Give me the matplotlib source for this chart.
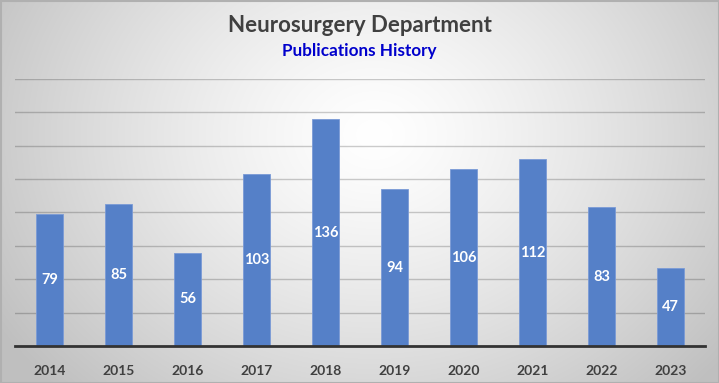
import numpy as np
import matplotlib
matplotlib.use("Agg")
import matplotlib.pyplot as plt

years = ["2014", "2015", "2016", "2017", "2018", "2019", "2020", "2021", "2022", "2023"]
publications = [79, 85, 56, 103, 136, 94, 106, 112, 83, 47]

W, H = 719, 383
fig = plt.figure(figsize=(W / 100, H / 100), dpi=100)

# radial gradient background
bg = fig.add_axes([0, 0, 1, 1])
yy, xx = np.mgrid[0:H, 0:W]
cx, cy = W * 0.52, H * 0.35
r = np.sqrt(((xx - cx) / (W * 0.62)) ** 2 + ((yy - cy) / (H * 0.95)) ** 2)
r = np.clip(r, 0, 1)
val = 1.0 - 0.25 * r ** 1.3
img = np.dstack([val, val, val])
bg.imshow(img, extent=[0, W, H, 0], aspect="auto", interpolation="bilinear")
bg.set_xlim(0, W)
bg.set_ylim(H, 0)
bg.axis("off")
bg.add_patch(plt.Rectangle((0.5, 0.5), W - 1, H - 1, fill=False, edgecolor="#b0b0b0", lw=1.5))

left, right, bottom, top = 15, 705, 346, 79
ax = fig.add_axes([left / W, (H - bottom) / H, (right - left) / W, (bottom - top) / H])
ax.patch.set_alpha(0)
x = np.arange(len(years))
bars = ax.bar(x, publications, width=0.38, color="#5580C8", edgecolor="#7a9ad6", linewidth=0.6, zorder=3)
ax.set_xlim(-0.5, len(years) - 0.5)
ax.set_ylim(0, 160)
ax.set_yticks(np.arange(0, 161, 20))
ax.yaxis.grid(True, color="black", alpha=0.2, linewidth=1.0, zorder=0)
ax.tick_params(axis="y", left=False, labelleft=False)
ax.tick_params(axis="x", bottom=False, pad=10)
ax.set_xticks(x)
ax.set_xticklabels(years, fontsize=10, fontweight="bold", color="#404040", family="Lato")
for s in ["top", "right", "left"]:
    ax.spines[s].set_visible(False)
ax.spines["bottom"].set_color("#333333")
ax.spines["bottom"].set_linewidth(2.0)
ax.spines["bottom"].set_zorder(4)

for xi, v in zip(x, publications):
    ax.text(xi, v / 2, str(v), ha="center", va="center", color="white",
            fontsize=10.5, fontweight="bold", family="Lato", zorder=5)

fig.text(0.5, 1 - 26 / H, "Neurosurgery Department", ha="center", va="center",
         fontsize=16, fontweight="bold", color="#404040", family="Lato")
fig.text(0.5, 1 - 51 / H, "Publications History", ha="center", va="center",
         fontsize=12.3, fontweight="bold", color="#0000CC", family="Lato")

fig.savefig("out.png", dpi=100)
